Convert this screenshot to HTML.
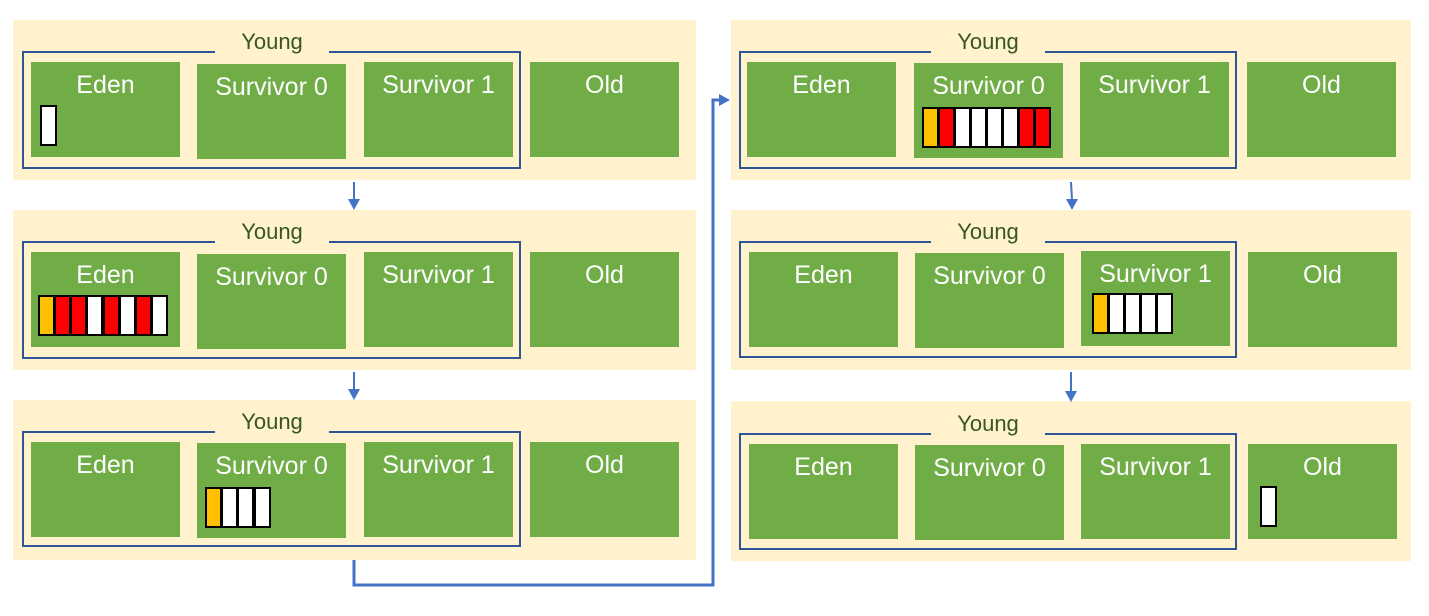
<!DOCTYPE html>
<html><head><meta charset="utf-8"><style>
body{margin:0;width:1429px;height:616px;background:#fff;position:relative;overflow:hidden;font-family:"Segoe UI","Liberation Sans",sans-serif}
div{position:absolute;box-sizing:border-box}
.p{background:#fff2cc}
.y{border:2px solid #2f5597}
.yl{background:#fff2cc;color:#375623;font-size:22px;text-align:center;line-height:26px;width:114px}
.g{background:#70ad47;color:#fff;font-size:25px;text-align:center;padding-top:9px;line-height:28px}
.c{border:2px solid #000;width:17px;height:41px}
.o{background:#ffc000}.r{background:#ff0000}.w{background:#fff}
</style></head><body>
<div class="p" style="left:13px;top:20px;width:683px;height:160px"></div>
<div class="p" style="left:13px;top:210px;width:683px;height:160px"></div>
<div class="p" style="left:13px;top:400px;width:683px;height:160px"></div>
<div class="p" style="left:731px;top:20px;width:680px;height:160px"></div>
<div class="p" style="left:731px;top:210px;width:680px;height:160px"></div>
<div class="p" style="left:731px;top:401px;width:680px;height:160px"></div>

<div class="y" style="left:22px;top:51px;width:499px;height:118px"></div>
<div class="yl" style="left:215px;top:29px">Young</div>
<div class="g" style="left:31px;top:62px;width:149px;height:95px">Eden</div>
<div class="g" style="left:197px;top:64px;width:149px;height:95px">Survivor 0</div>
<div class="g" style="left:364px;top:62px;width:149px;height:95px">Survivor 1</div>
<div class="g" style="left:530px;top:62px;width:149px;height:95px">Old</div>
<div class="c w" style="left:40px;top:105px"></div>

<div class="y" style="left:22px;top:241px;width:499px;height:118px"></div>
<div class="yl" style="left:215px;top:219px">Young</div>
<div class="g" style="left:31px;top:252px;width:149px;height:95px">Eden</div>
<div class="g" style="left:197px;top:254px;width:149px;height:95px">Survivor 0</div>
<div class="g" style="left:364px;top:252px;width:149px;height:95px">Survivor 1</div>
<div class="g" style="left:530px;top:252px;width:149px;height:95px">Old</div>
<div class="c o" style="left:38px;top:295px"></div>
<div class="c r" style="left:54px;top:295px"></div>
<div class="c r" style="left:70px;top:295px"></div>
<div class="c w" style="left:86px;top:295px"></div>
<div class="c r" style="left:103px;top:295px"></div>
<div class="c w" style="left:119px;top:295px"></div>
<div class="c r" style="left:135px;top:295px"></div>
<div class="c w" style="left:151px;top:295px"></div>

<div class="y" style="left:22px;top:431px;width:499px;height:116px"></div>
<div class="yl" style="left:215px;top:409px">Young</div>
<div class="g" style="left:31px;top:442px;width:149px;height:95px">Eden</div>
<div class="g" style="left:197px;top:443px;width:149px;height:95px">Survivor 0</div>
<div class="g" style="left:364px;top:442px;width:149px;height:95px">Survivor 1</div>
<div class="g" style="left:530px;top:442px;width:149px;height:95px">Old</div>
<div class="c o" style="left:205px;top:487px"></div>
<div class="c w" style="left:221px;top:487px"></div>
<div class="c w" style="left:237px;top:487px"></div>
<div class="c w" style="left:254px;top:487px"></div>

<div class="y" style="left:739px;top:51px;width:498px;height:118px"></div>
<div class="yl" style="left:931px;top:29px">Young</div>
<div class="g" style="left:747px;top:62px;width:149px;height:95px">Eden</div>
<div class="g" style="left:914px;top:63px;width:149px;height:95px">Survivor 0</div>
<div class="g" style="left:1080px;top:62px;width:149px;height:95px">Survivor 1</div>
<div class="g" style="left:1247px;top:62px;width:149px;height:95px">Old</div>
<div class="c o" style="left:922px;top:107px"></div>
<div class="c r" style="left:938px;top:107px"></div>
<div class="c w" style="left:954px;top:107px"></div>
<div class="c w" style="left:970px;top:107px"></div>
<div class="c w" style="left:986px;top:107px"></div>
<div class="c w" style="left:1002px;top:107px"></div>
<div class="c r" style="left:1018px;top:107px"></div>
<div class="c r" style="left:1034px;top:107px"></div>

<div class="y" style="left:739px;top:241px;width:498px;height:117px"></div>
<div class="yl" style="left:931px;top:219px">Young</div>
<div class="g" style="left:749px;top:252px;width:149px;height:95px">Eden</div>
<div class="g" style="left:915px;top:253px;width:149px;height:95px">Survivor 0</div>
<div class="g" style="left:1081px;top:251px;width:149px;height:95px">Survivor 1</div>
<div class="g" style="left:1248px;top:252px;width:149px;height:95px">Old</div>
<div class="c o" style="left:1092px;top:293px"></div>
<div class="c w" style="left:1108px;top:293px"></div>
<div class="c w" style="left:1124px;top:293px"></div>
<div class="c w" style="left:1140px;top:293px"></div>
<div class="c w" style="left:1156px;top:293px"></div>

<div class="y" style="left:739px;top:433px;width:498px;height:117px"></div>
<div class="yl" style="left:931px;top:411px">Young</div>
<div class="g" style="left:749px;top:444px;width:149px;height:95px">Eden</div>
<div class="g" style="left:915px;top:445px;width:149px;height:95px">Survivor 0</div>
<div class="g" style="left:1081px;top:444px;width:149px;height:95px">Survivor 1</div>
<div class="g" style="left:1248px;top:444px;width:149px;height:95px">Old</div>
<div class="c w" style="left:1260px;top:486px"></div>

<svg style="position:absolute;left:0;top:0" width="1429" height="616">
<g stroke="#4472c4" stroke-width="2" fill="none">
<line x1="354" y1="182" x2="354" y2="200"/>
<line x1="354" y1="372" x2="354" y2="390"/>
<line x1="1071" y1="182" x2="1072" y2="200"/>
<line x1="1071" y1="372" x2="1071" y2="392"/>
<polyline stroke-width="3" points="354,560 354,585 713,585 713,100 720,100"/>
</g>
<g fill="#4472c4">
<polygon points="348,199 360,199 354,210"/>
<polygon points="348,389 360,389 354,400"/>
<polygon points="1066,199 1078,199 1072,210"/>
<polygon points="1065,391 1077,391 1071,402"/>
<polygon points="719,94 719,106 730,100"/>
</g>
</svg>
</body></html>
